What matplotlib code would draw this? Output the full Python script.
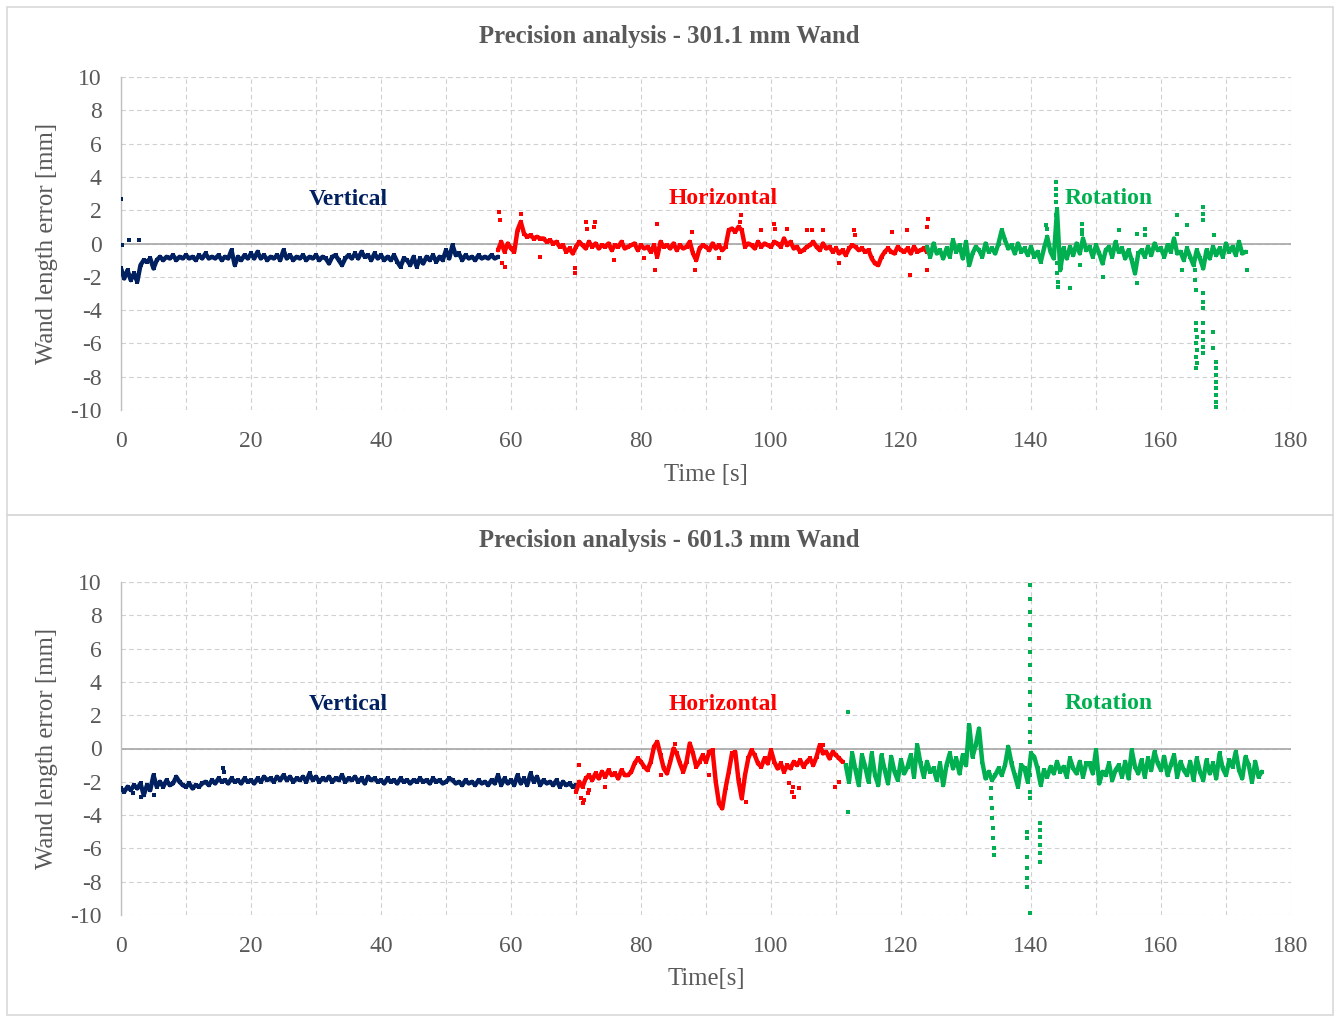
import numpy as np
import matplotlib
matplotlib.use("Agg")
import matplotlib.pyplot as plt
from matplotlib.patches import Rectangle

plt.rcParams['font.family'] = ['Liberation Serif', 'DejaVu Serif']

# ---------------- data ----------------
titles = ["Precision analysis - 301.1 mm Wand", "Precision analysis - 601.3 mm Wand"]
xlabels = ["Time [s]", "Time[s]"]
ylabel = "Wand length error [mm]"
phase_names = ["Vertical", "Horizontal", "Rotation"]
phase_colors = ["#002060", "#FF0000", "#00B050"]
label_t = [35, 92.6, 152]
label_v = [[2.65, 2.7, 2.7], [2.65, 2.65, 2.7]]
step = 0.5

# Panel 1 (301.1 mm) — samples every 0.5 s
p1_vert_start = 0.0
p1_vert = [-1.5, -2.1, -1.6, -2.2, -1.8, -2.3, -1.3, -1.0, -1.1, -0.9, -1.5, -1.0,
           -0.8, -1.0, -0.8, -0.9, -0.7, -1.0, -0.8, -0.9, -0.7, -0.9, -0.8, -1.0,
           -0.7, -0.9, -0.6, -0.9, -0.8, -0.9, -0.7, -1.0, -0.8, -0.9, -0.4, -1.3,
           -0.8, -1.0, -0.7, -0.9, -0.6, -0.9, -0.5, -0.9, -0.7, -1.0, -0.8, -0.9,
           -0.7, -1.0, -0.4, -0.9, -0.7, -1.0, -0.8, -0.9, -0.7, -1.0, -0.8, -0.9,
           -0.7, -1.0, -0.8, -0.9, -1.2, -0.8, -0.7, -1.0, -1.3, -0.9, -0.7, -0.9,
           -0.6, -0.9, -0.5, -0.8, -0.7, -1.0, -0.6, -0.9, -0.7, -1.0, -0.8, -1.0,
           -0.7, -1.1, -1.4, -0.9, -1.0, -1.3, -0.8, -1.4, -0.9, -1.2, -0.8, -1.0,
           -0.7, -1.1, -0.8, -1.0, -0.4, -0.9, -0.1, -0.7, -0.6, -1.0, -0.7, -0.9,
           -0.8, -1.0, -0.7, -0.9, -0.8, -0.9, -0.7, -0.9, -0.8]
p1_vert_out_t = [0.0, 1.3, 2.8, 0.1]
p1_vert_out_v = [2.7, 0.2, 0.2, -0.1]

p1_hor_start = 58.0
p1_hor = [-0.4, 0.1, -0.5, 0.0, -0.3, -0.5, 0.8, 1.3, 0.6, 0.4, 0.5, 0.3,
          0.4, 0.3, 0.3, 0.1, 0.2, 0.0, 0.1, -0.2, -0.1, -0.5, -0.3, -0.6,
          -0.2, 0.1, -0.1, -0.3, 0.1, -0.2, 0.0, -0.3, -0.1, -0.2, 0.0, -0.4,
          -0.1, -0.2, 0.1, -0.3, -0.2, -0.1, 0.0, -0.4, -0.1, -0.3, -0.2, -0.5,
          -0.1, -0.8, 0.1, -0.2, -0.1, -0.3, 0.0, -0.4, -0.1, -0.3, -0.2, 0.1,
          -0.6, -1.0, -0.3, -0.1, -0.2, -0.4, 0.0, -0.3, -0.1, -0.4, -0.2, 0.8,
          0.9, 0.7, 1.0, 0.8, -0.2, 0.0, -0.1, -0.3, 0.1, -0.2, 0.0, -0.1,
          -0.2, 0.1, 0.0, -0.2, 0.3, -0.1, 0.1, -0.3, -0.2, -0.5, -0.4, -0.2,
          -0.1, 0.1, -0.2, -0.4, 0.0, -0.3, -0.2, -0.5, -0.3, -0.6, -0.4, -0.7,
          -0.3, -0.1, -0.2, -0.4, -0.3, -0.5, -0.4, -0.9, -1.2, -1.3, -0.8, -0.5,
          -0.3, -0.5, -0.6, -0.2, -0.4, -0.5, -0.3, -0.6, -0.2, -0.5, -0.4, -0.3,
          -0.5]
p1_hor_out_t = [58.2, 58.3, 58.6, 59.0, 61.6, 69.8, 69.9, 71.6, 71.7, 72.9, 72.8,
                82.1, 82.5, 87.8, 88.3, 95.4, 95.3, 98.4, 100.5, 100.6, 102.5,
                105.5, 106.3, 108.0, 112.8, 112.9, 118.6, 120.9, 121.4, 124.0,
                124.1, 124.0, 64.5, 75.9, 80.5, 92.0, 110.5]
p1_hor_out_v = [1.9, 1.4, -1.2, -1.4, 1.8, -1.8, -1.5, 1.3, 0.9, 1.3, 1.0,
                -1.6, 1.2, 0.7, -1.6, 1.7, 1.3, 0.8, 1.2, 0.9, 0.9,
                0.8, 0.8, 0.8, 0.8, 0.5, 0.7, 0.8, -1.9, 1.0,
                1.5, -1.6, -0.8, -1.0, -0.9, -0.9, -1.2]

p1_rot_start = 124.0
p1_rot = [-0.2, -0.8, 0.0, -0.6, -0.4, -0.9, -0.3, -0.8, 0.2, -0.5, -0.1, -0.9,
          0.1, -1.3, -0.6, -0.2, -0.4, -0.8, 0.0, -0.5, -0.3, -0.6, 0.0, 0.8,
          0.2, -0.3, -0.1, -0.6, 0.0, -0.5, -0.3, -0.7, -0.2, -0.8, -0.5, -1.1,
          -0.3, 0.4, -0.5, -0.9, 2.0, -1.6, -0.3, -0.9, -0.2, -0.7, 0.0, -0.6,
          0.3, -0.4, -0.2, -0.8, -0.1, -0.6, -1.2, -0.4, -0.2, -0.8, 0.1, -0.5,
          -0.3, -0.9, -0.4, -1.0, -1.8, -0.6, -0.4, -0.8, -0.2, -0.7, 0.0, -0.4,
          -0.3, -0.8, -0.1, -0.5, 0.3, -0.6, -0.5, -1.0, -0.3, -0.8, -1.3, -0.4,
          -0.9, -1.5, -0.4, -0.9, -0.2, -0.7, -0.3, -0.8, 0.0, -0.5, -0.2, -0.7,
          0.1, -0.6, -0.5]
p1_rot_out_t = [143.9, 143.9, 143.9, 143.9, 144.0, 143.9, 144.0, 143.9, 144.0,
                144.0, 144.1, 144.1, 146.0, 147.8, 147.8, 147.8, 147.5, 151.1,
                153.5, 156.3, 156.3, 157.6, 157.6, 162.4, 162.4, 163.2, 164.0,
                165.3, 165.3, 165.4, 165.4, 165.4, 165.5, 165.4, 165.5, 165.4,
                165.5, 165.4, 166.4, 166.4, 166.4, 166.4, 166.4, 166.4, 166.5,
                166.4, 166.5, 166.4, 166.5, 168.0, 168.0, 168.2, 168.4, 168.4,
                168.5, 168.4, 168.5, 168.4, 168.5, 168.4, 173.3, 142.5, 142.3,
                144.6]
p1_rot_out_v = [3.7, 3.3, 2.9, 2.5, 2.1, 1.7, 1.3, 1.0, -1.2,
                -1.8, -2.3, -2.6, -2.7, 1.2, 0.8, 0.6, -1.3, -2.0,
                0.8, -2.4, 0.6, 0.9, 0.5, 1.7, 0.6, -1.6, 1.1,
                -1.6, -2.2, -2.8, -4.8, -5.2, -5.6, -6.0, -6.4, -6.8,
                -7.2, -7.5, 2.2, 1.8, 1.4, -3.0, -3.5, -3.9, -4.8,
                -5.3, -5.8, -6.2, -6.6, -5.3, -6.3, 0.5, -7.1, -7.5,
                -7.9, -8.3, -8.7, -9.1, -9.5, -9.8, -1.6, 0.9, 1.1,
                -1.2]

# Panel 2 (601.3 mm)
p2_vert_start = 0.0
p2_vert = [-2.4, -2.6, -2.3, -2.5, -2.2, -2.4, -2.1, -2.8, -2.2, -2.5, -1.6, -2.3,
           -2.0, -2.3, -1.9, -2.2, -2.1, -1.7, -2.0, -2.2, -2.3, -2.1, -2.4, -2.2,
           -2.3, -2.1, -2.0, -2.2, -1.9, -2.1, -1.8, -2.0, -1.9, -2.1, -1.8, -2.0,
           -1.9, -2.1, -1.8, -2.0, -1.9, -2.1, -1.8, -2.0, -1.7, -1.9, -1.8, -2.0,
           -1.7, -1.9, -1.6, -1.9, -1.7, -2.0, -1.8, -1.9, -1.7, -2.0, -1.5, -1.9,
           -1.7, -2.0, -1.8, -1.9, -1.7, -2.0, -1.8, -1.9, -1.6, -2.0, -1.8, -1.9,
           -1.7, -2.0, -1.8, -2.1, -1.7, -1.9, -1.8, -2.0, -1.9, -2.1, -1.8, -2.0,
           -1.9, -2.1, -1.8, -2.0, -1.9, -2.1, -1.9, -2.0, -1.8, -2.0, -1.9, -2.1,
           -1.8, -2.0, -1.9, -2.1, -2.0, -1.8, -1.9, -2.1, -2.0, -2.2, -1.9, -2.1,
           -2.0, -2.2, -1.9, -2.1, -2.0, -2.2, -1.9, -2.1, -1.6, -2.2, -1.8, -2.1,
           -1.9, -2.2, -1.6, -2.1, -1.8, -2.2, -1.5, -2.0, -1.7, -2.2, -1.9, -2.1,
           -2.0, -2.2, -1.9, -2.3, -2.0, -2.2, -2.1, -2.3, -2.2]
p2_vert_out_t = [15.7, 15.8, 3.0, 5.0, 1.8]
p2_vert_out_v = [-1.2, -1.4, -2.9, -2.8, -2.7]

p2_hor_start = 70.0
p2_hor = [-2.6, -2.0, -2.3, -1.8, -1.6, -1.9, -1.5, -1.8, -1.4, -1.7, -1.3, -1.6,
          -1.5, -1.8, -1.3, -1.6, -1.6, -1.4, -0.9, -0.6, -0.8, -1.1, -1.3, -0.8,
          0.1, 0.4, -0.4, -1.2, -1.5, -0.8, 0.0, -0.3, -0.9, -1.4, -0.8, 0.3,
          -0.3, -1.1, -0.8, -0.4, -0.8, -0.2, -0.1, -2.0, -3.3, -3.6, -2.4, -1.4,
          -0.3, -0.2, -1.9, -3.0, -1.6, -0.6, -0.1, -0.4, -0.9, -1.1, -0.6, -0.9,
          -0.1, -0.8, -1.2, -0.9, -1.4, -1.0, -1.2, -0.8, -1.0, -0.7, -1.1, -0.8,
          -0.6, -1.0, -0.5, 0.2, -0.3, -0.2, -0.6, -0.2, -0.4, -0.6, -0.8]
p2_hor_out_t = [70.5, 70.8, 71.0, 71.3, 71.8, 72.0, 74.5, 83.0, 85.3, 90.5, 96.2,
                102.8, 103.2, 103.5, 103.4, 104.3, 108.0, 109.9, 110.5]
p2_hor_out_v = [-1.0, -3.0, -3.3, -3.1, -2.7, -2.5, -2.3, -1.6, 0.3, -1.6, -3.2,
                -2.1, -2.6, -2.9, -2.3, -2.4, 0.2, -2.3, -2.0]

p2_rot_start = 111.5
p2_rot = [-1.0, -2.0, -0.3, -1.3, -2.2, -0.4, -1.1, -2.0, -0.3, -1.6, -2.2, -0.4,
          -1.3, -2.1, -0.5, -1.4, -1.9, -0.7, -1.5, -1.1, -0.4, -1.7, 0.2, -0.9,
          -1.7, -0.8, -1.4, -1.2, -1.9, -0.9, -2.2, -1.0, -0.3, -1.2, -0.6, -1.5,
          -0.4, -1.0, 1.4, -0.5, 0.2, 1.2, -0.8, -1.8, -1.4, -1.9, -1.6, -1.2,
          -1.6, -1.0, 0.1, -0.9, -1.6, -2.3, -1.0, -1.2, -2.0, -0.3, -0.5, -1.2,
          -2.2, -1.3, -1.7, -1.1, -1.5, -0.8, -1.4, -1.1, -1.7, -0.6, -1.2, -1.5,
          -0.8, -1.7, -0.9, -0.9, -1.5, -0.1, -2.1, -1.4, -1.6, -0.9, -1.9, -1.3,
          -1.0, -1.7, -0.8, -1.8, -0.1, -1.1, -1.5, -0.7, -1.7, -0.6, -1.3, -0.2,
          -0.9, -1.3, -0.5, -1.6, -1.0, -0.4, -1.7, -0.8, -1.3, -1.6, -0.8, -1.9,
          -0.6, -1.4, -1.9, -0.7, -1.5, -0.9, -1.8, -0.3, -1.2, -1.6, -0.7, -1.1,
          -0.2, -1.3, -1.8, -0.5, -1.0, -2.0, -0.8, -1.7, -1.4]
p2_rot_out_t = [133.8, 133.9, 134.0, 134.0, 134.1, 134.2, 134.3, 134.3,
                139.9, 139.9, 139.9, 139.9, 139.9, 139.9, 139.9, 139.9, 139.9,
                139.9, 139.9, 139.9, 139.9, 139.9, 139.9,
                139.4, 139.4, 139.4, 139.4, 139.4, 139.4, 139.8,
                141.4, 141.4, 141.4, 141.4, 141.4, 141.4,
                111.9, 111.9, 139.8]
p2_rot_out_v = [-2.4, -3.0, -3.6, -4.2, -4.8, -5.4, -6.0, -6.4,
                9.8, 9.0, 8.2, 7.4, 6.6, 5.8, 5.0, 4.2, 3.4,
                2.6, 1.8, 1.0, 0.4, -1.6, -2.6,
                -5.0, -5.4, -6.5, -7.2, -7.8, -8.3, -9.9,
                -4.5, -4.9, -5.3, -5.8, -6.3, -6.8,
                2.2, -3.8, -3.0]

panels = [
    [(p1_vert_start, p1_vert, p1_vert_out_t, p1_vert_out_v),
     (p1_hor_start, p1_hor, p1_hor_out_t, p1_hor_out_v),
     (p1_rot_start, p1_rot, p1_rot_out_t, p1_rot_out_v)],
    [(p2_vert_start, p2_vert, p2_vert_out_t, p2_vert_out_v),
     (p2_hor_start, p2_hor, p2_hor_out_t, p2_hor_out_v),
     (p2_rot_start, p2_rot, p2_rot_out_t, p2_rot_out_v)],
]

x_ticks = [0, 20, 40, 60, 80, 100, 120, 140, 160, 180]
y_ticks = [-10, -8, -6, -4, -2, 0, 2, 4, 6, 8, 10]

# ---------------- figure ----------------
W, H = 1336, 1016
fig = plt.figure(figsize=(W / 100, H / 100), dpi=100)
gray_txt = "#595959"
frame_c = "#D9D9D9"

# chart frames
fig.patches.append(Rectangle((7 / W, 1 - 515 / H), (1333 - 7) / W, (515 - 7) / H,
                             transform=fig.transFigure, fill=False, ec=frame_c, lw=1.2))
fig.patches.append(Rectangle((7 / W, 1 - 1015 / H), (1333 - 7) / W, (1015 - 515) / H,
                             transform=fig.transFigure, fill=False, ec=frame_c, lw=1.2))

ax_rects = [[121 / W, 1 - 410 / H, (1291 - 121) / W, (410 - 77) / H],
            [121 / W, 1 - 915 / H, (1291 - 121) / W, (915 - 582) / H]]
title_y = [36, 541]
xlabel_y = [475, 979]
ylabel_y = [243, 748]

for k in range(2):
    ax = fig.add_axes(ax_rects[k])
    ax.set_xlim(0, 180)
    ax.set_ylim(-10, 10)
    ax.set_xticks(x_ticks)
    ax.set_xticks(np.arange(10, 180, 20), minor=True)
    ax.set_yticks(y_ticks)
    ax.set_yticklabels([str(v) for v in y_ticks])
    for s in ["top", "right", "bottom"]:
        ax.spines[s].set_visible(False)
    ax.spines["left"].set_color("#BFBFBF")
    ax.spines["left"].set_linewidth(1.0)
    ax.grid(True, which="both", axis="x", color="#D0D0D0", ls=(0, (4, 3)), lw=0.8)
    ax.grid(True, which="major", axis="y", color="#D0D0D0", ls=(0, (4, 3)), lw=0.8)
    ax.axhline(10, color="#D0D0D0", ls=(0, (4, 3)), lw=0.8, zorder=0.5)
    ax.axhline(0, color="#A6A6A6", lw=1.2, zorder=1)
    ax.set_axisbelow(True)
    ax.tick_params(which="both", length=0, labelsize=17, colors=gray_txt)
    ax.tick_params(axis="x", pad=15)
    ax.tick_params(axis="y", pad=14)

    for j, (t0, vals, ot, ov) in enumerate(panels[k]):
        t = t0 + step * np.arange(len(vals))
        c = phase_colors[j]
        ax.plot(t, vals, color=c, lw=3.2, marker="s", ms=3.2, mew=0, zorder=3,
                solid_joinstyle="round", solid_capstyle="round")
        ax.scatter(ot, ov, s=6, marker="s", color=c, lw=0, zorder=3)
        ax.text(label_t[j], label_v[k][j], phase_names[j], ha="center", va="center",
                fontsize=17, fontweight="bold", color=c, zorder=4)

    fig.text(669 / W, 1 - title_y[k] / H, titles[k], ha="center", va="center",
             fontsize=17.8, fontweight="bold", color=gray_txt)
    fig.text(706 / W, 1 - xlabel_y[k] / H, xlabels[k], ha="center", va="center",
             fontsize=17.8, color=gray_txt)
    fig.text(47 / W, 1 - ylabel_y[k] / H, ylabel, ha="center", va="center",
             rotation=90, fontsize=17.8, color=gray_txt)

fig.savefig("out.png", dpi=100)
